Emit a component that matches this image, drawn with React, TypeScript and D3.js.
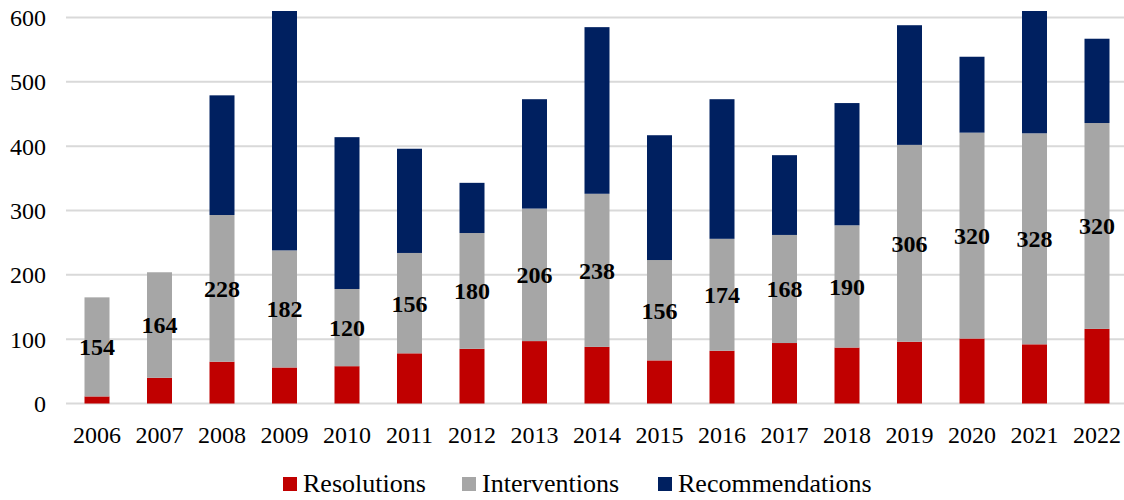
import React from "react";
import * as d3 from "d3";

const years = ["2006","2007","2008","2009","2010","2011","2012","2013","2014","2015","2016","2017","2018","2019","2020","2021","2022"];
const resolutions = [11, 40, 65, 56, 58, 78, 85, 97, 88, 67, 82, 94, 87, 96, 101, 92, 116];
const interventions = [154, 164, 228, 182, 120, 156, 180, 206, 238, 156, 174, 168, 190, 306, 320, 328, 320];
const recommendations = [0, 0, 186, 400, 236, 162, 78, 170, 259, 194, 217, 124, 190, 186, 118, 210, 131];
const yTicks = [0, 100, 200, 300, 400, 500, 600];
const seriesNames = ["Resolutions", "Interventions", "Recommendations"];
const seriesColors = ["#C00000", "#A6A6A6", "#002060"];

const W = 1124;
const H = 500;
const FONT = "Liberation Serif";

export default function App() {
  const x = d3.scaleBand<string>().domain(years).range([65.75, 1128.25]).paddingInner(0.6).paddingOuter(0.3);
  const y = d3.scaleLinear().domain([0, 600]).range([403.5, 17.5]);
  const clipTop = y(610);

  const rows = years.map((yr, i) => ({
    year: yr,
    Resolutions: resolutions[i],
    Interventions: interventions[i],
    Recommendations: recommendations[i],
  }));
  const stack = d3.stack<any>().keys(seriesNames);
  const layers = stack(rows);

  return (
    <svg width={W} height={H} style={{ position: "absolute", left: 0, top: 0, background: "#fff" }}>
      <defs>
        <clipPath id="plotClip">
          <rect x={0} y={clipTop} width={W} height={H - clipTop} />
        </clipPath>
      </defs>
      {yTicks.map((t) => (
        <g key={t}>
          <line x1={66} x2={W} y1={y(t)} y2={y(t)} stroke="#D9D9D9" strokeWidth={2} />
          <text fontFamily={FONT} x={46} y={y(t)} dy="0.35em" textAnchor="end" fontSize={24} fill="#000">{t}</text>
        </g>
      ))}
      <g clipPath="url(#plotClip)">
        {layers.map((layer, li) => (
          <g key={layer.key} fill={seriesColors[li]}>
            {layer.map((d, i) => {
              const h = y(d[0]) - y(d[1]);
              if (h <= 0) return null;
              return <rect key={i} x={x(years[i])} y={y(d[1])} width={x.bandwidth()} height={h} />;
            })}
          </g>
        ))}
      </g>
      {layers[1].map((d, i) => (
        <text fontFamily={FONT} key={i} x={(x(years[i]) as number) + x.bandwidth() / 2} y={y((d[0] + d[1]) / 2)} dy="0.35em"
          textAnchor="middle" fontSize={24} fontWeight="bold" fill="#000">{interventions[i]}</text>
      ))}
      {years.map((yr) => (
        <text fontFamily={FONT} key={yr} x={(x(yr) as number) + x.bandwidth() / 2} y={443} textAnchor="middle" fontSize={24} fill="#000">{yr}</text>
      ))}
      {seriesNames.map((name, i) => {
        const lx = [283, 462, 658][i];
        return (
          <g key={name}>
            <rect x={lx} y={477} width={14} height={14} fill={seriesColors[i]} />
            <text fontFamily={FONT} x={lx + 20} y={492} fontSize={26} fill="#000">{name}</text>
          </g>
        );
      })}
    </svg>
  );
}
